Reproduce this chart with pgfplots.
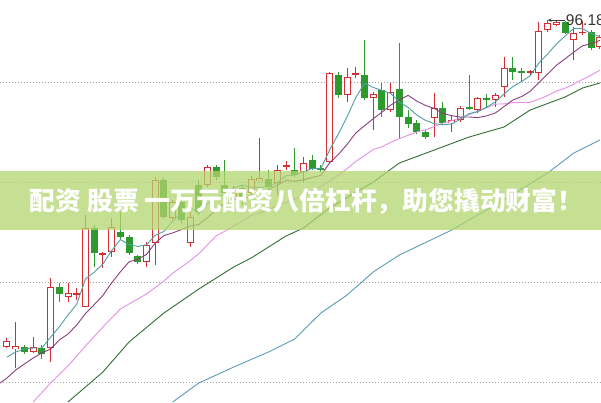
\documentclass[border=0pt]{standalone}
\usepackage{fontspec}
\setmainfont{Liberation Sans}
\newfontfamily\cjk{Noto Sans CJK SC}
\usepackage{pgfplots}
\pgfplotsset{compat=1.18}
\usepackage{pgfplotstable}
\usetikzlibrary{arrows.meta}

\definecolor{cred}{HTML}{D22E33}
\definecolor{cgreen}{HTML}{2E9A2E}
\definecolor{ma5}{HTML}{4E9FA3}
\definecolor{ma10}{HTML}{8A3D7E}
\definecolor{ma20}{HTML}{E58FE6}
\definecolor{ma60}{HTML}{2F6E33}
\definecolor{ma120}{HTML}{5A9DB5}
\definecolor{gridgray}{HTML}{A0A0A0}
\definecolor{band}{HTML}{B2D56E}

% daily candles: index, open, high, low, close
\pgfplotstableread{
k o h l c
0 63.5 64.4 63.4 64.1
1 63.3 66.0 61.4 63.6
2 63.5 63.7 62.8 63.0
3 63.0 64.5 62.9 63.5
4 63.4 63.7 62.3 62.8
5 63.4 70.4 62.0 69.5
6 69.5 69.9 68.0 68.8
7 68.5 69.9 68.0 68.9
8 68.7 69.4 68.2 68.9
9 67.5 76.7 67.5 75.4
10 75.4 75.7 71.5 72.9
11 72.7 73.0 71.4 72.9
12 73.0 76.4 72.5 75.5
13 75.0 77.0 74.2 74.5
14 74.5 74.7 72.7 72.9
15 72.6 72.7 71.8 72.0
16 72.0 74.0 71.5 73.7
17 73.9 80.5 71.7 80.2
18 80.2 80.4 76.3 76.5
19 76.4 78.2 76.2 78.0
20 78.0 78.2 75.9 76.2
21 73.9 77.0 73.5 76.5
22 79.7 80.2 76.7 77.0
23 79.7 81.7 79.5 81.5
24 81.5 81.7 80.2 80.5
25 79.7 82.2 78.5 78.9
26 78.2 79.6 77.8 79.2
27 79.4 79.7 77.7 78.4
28 78.9 80.6 78.6 80.3
29 80.1 84.4 80.0 80.4
30 80.3 81.2 79.0 79.5
31 79.9 81.7 78.7 81.2
32 81.5 82.1 81.2 81.7
33 81.2 83.4 80.5 80.7
34 81.0 82.5 80.0 81.9
35 82.2 82.7 81.2 81.3
36 81.4 81.7 81.0 81.2
37 82.0 91.0 81.9 90.9
38 90.7 91.0 88.4 88.7
39 88.7 91.4 88.0 90.5
40 90.7 91.5 90.4 90.9
41 90.7 94.2 88.2 88.4
42 88.4 89.0 85.2 88.8
43 89.2 89.9 86.5 87.2
44 87.2 89.9 87.0 89.0
45 89.3 93.9 84.4 86.5
46 86.5 87.2 85.4 85.8
47 85.9 86.2 84.8 85.0
48 85.0 85.2 84.3 84.5
49 86.4 88.9 84.5 87.4
50 87.4 88.0 85.7 85.9
51 85.9 86.7 85.0 86.2
52 86.2 87.6 86.0 87.4
53 87.5 90.7 87.2 87.3
54 87.2 88.5 86.9 88.4
55 88.4 88.8 87.4 88.2
56 88.2 88.9 87.5 88.7
57 89.5 92.5 88.5 91.4
58 91.4 92.5 90.2 91.0
59 91.1 91.4 90.0 90.9
60 90.9 91.2 90.7 91.1
61 90.9 96.0 90.2 95.1
62 95.2 96.18 95.0 95.9
63 95.7 96.1 95.6 96.0
64 96.0 96.1 94.8 94.9
65 94.2 95.5 92.2 94.9
66 94.9 96.1 94.7 95.0
67 95.0 95.2 93.2 93.4
68 93.5 94.7 93.3 94.5
}\ohlc

\pgfplotstableread{
k v
0 62.5
1 63.0
2 63.3
3 63.4
4 63.40
5 64.48
6 65.52
7 66.70
8 67.78
9 70.30
10 70.98
11 71.80
12 73.12
13 74.24
14 73.74
15 73.56
16 73.72
17 74.66
18 75.06
19 76.08
20 76.92
21 77.48
22 76.84
23 77.84
24 78.34
25 78.88
26 79.42
27 79.70
28 79.46
29 79.44
30 79.56
31 79.96
32 80.62
33 80.70
34 81.00
35 81.36
36 81.36
37 83.20
38 84.80
39 86.52
40 88.44
41 89.88
42 89.46
43 89.16
44 88.86
45 87.98
46 87.46
47 86.70
48 86.16
49 85.84
50 85.72
51 85.80
52 86.28
53 86.84
54 87.04
55 87.50
56 88.00
57 88.80
58 89.54
59 90.04
60 90.62
61 91.90
62 92.80
63 93.80
64 94.60
65 95.36
66 95.34
67 94.84
68 94.54
}\mafive

\pgfplotstableread{
k v
-0.8 59.9
0 60.4
1 61.2
2 61.8
3 62.4
4 62.9
5 63.3
6 64.2
7 64.8
8 65.7
9 66.85
10 67.73
11 68.66
12 69.91
13 71.01
14 72.02
15 72.27
16 72.76
17 73.89
18 74.65
19 74.91
20 75.24
21 75.60
22 75.75
23 76.45
24 77.21
25 77.90
26 78.45
27 78.27
28 78.65
29 78.89
30 79.22
31 79.69
32 80.16
33 80.08
34 80.22
35 80.46
36 80.66
37 81.91
38 82.75
39 83.76
40 84.90
41 85.62
42 86.33
43 86.98
44 87.69
45 88.21
46 88.67
47 88.08
48 87.66
49 87.35
50 86.85
51 86.63
52 86.49
53 86.50
54 86.44
55 86.61
56 86.90
57 87.54
58 88.19
59 88.54
60 89.06
61 89.95
62 90.80
63 91.67
64 92.32
65 92.99
66 93.62
67 93.82
68 94.17
}\maten

\pgfplotstableread{
k v
3 58.0
5 59.9
7 61.6
9 63.6
11 65.5
13 67.3
14 67.8
16 68.8
18 70.1
19 70.88
20 71.49
21 72.13
22 72.83
23 73.73
24 74.62
25 75.09
26 75.61
27 76.08
28 76.65
29 76.90
30 77.23
31 77.65
32 77.96
33 78.27
34 78.72
35 79.18
36 79.56
37 80.09
38 80.70
39 81.33
40 82.06
41 82.66
42 83.25
43 83.53
44 83.96
45 84.34
46 84.67
47 85.00
48 85.21
49 85.56
50 85.88
51 86.13
52 86.41
53 86.74
54 87.07
55 87.41
56 87.79
57 87.81
58 87.93
59 87.95
60 87.96
61 88.29
62 88.65
63 89.09
64 89.38
65 89.80
66 90.26
67 90.68
68 91.18
}\matwenty

\pgfplotstableread{
k v
7 58.0
11 61.0
14 64.0
18 66.9
22 69.3
26 71.5
28 72.4
32 74.6
34 75.4
37 77.4
42 80.0
45 81.9
49 83.2
53 84.5
57 85.5
60 87.2
64 88.5
66 89.4
68 89.9
}\masixty

\pgfplotstableread{
k v
19 58.0
22 59.9
26 61.5
30 63.0
33 64.3
36 66.9
39 68.7
42 71.0
45 72.7
51 75.2
56 77.7
62 80.9
65 82.9
68 84.2
}\mahundred

\pgfplotsset{
  candle/.style 2 args={draw=none, mark=none, forget plot,
    error bars/.cd, y dir=both, y explicit, error mark=none,
    error bar style={draw=#1, line width=#2, solid}},
}

\begin{document}
\begin{tikzpicture}
\begin{axis}[
  at={(0,0)}, anchor=south west,
  width=601pt, height=402pt, scale only axis,
  xmin=-0.8, xmax=68.12, ymin=58.0, ymax=98.2,
  axis line style={draw=none},
  xtick=\empty, ytick={60,70,80,90}, yticklabels={},
  major tick length=0pt, tick style={draw=none},
  ymajorgrids,
  grid style={gridgray, line width=0.8pt, dash pattern=on 1pt off 2pt},
]
% wicks
\addplot[restrict expr to domain={\thisrow{c}-\thisrow{o}}{0:100}, candle={cred}{1pt}]
  table[x=k, y expr={(\thisrow{h}+\thisrow{l})/2}, y error expr={(\thisrow{h}-\thisrow{l})/2}] {\ohlc};
\addplot[restrict expr to domain={\thisrow{c}-\thisrow{o}}{-100:-0.0001}, candle={cgreen}{1pt}]
  table[x=k, y expr={(\thisrow{h}+\thisrow{l})/2}, y error expr={(\thisrow{h}-\thisrow{l})/2}] {\ohlc};
% bodies: green filled, red hollow
\addplot[restrict expr to domain={\thisrow{c}-\thisrow{o}}{-100:-0.0001}, candle={cgreen}{7pt}]
  table[x=k, y expr={(\thisrow{o}+\thisrow{c})/2}, y error expr={max(abs(\thisrow{o}-\thisrow{c})/2,0.06)}] {\ohlc};
\addplot[restrict expr to domain={\thisrow{c}-\thisrow{o}}{0:100}, candle={cred}{7pt}]
  table[x=k, y expr={(\thisrow{o}+\thisrow{c})/2}, y error expr={max(abs(\thisrow{o}-\thisrow{c})/2,0.06)}] {\ohlc};
\addplot[restrict expr to domain={\thisrow{c}-\thisrow{o}}{0.25:100}, candle={white}{5pt}]
  table[x=k, y expr={(\thisrow{o}+\thisrow{c})/2}, y error expr={abs(\thisrow{o}-\thisrow{c})/2-0.1}] {\ohlc};

% moving averages
\addplot[ma120, line width=0.9pt, mark=none] table[x=k, y=v] {\mahundred};
\addplot[ma60, line width=0.9pt, mark=none] table[x=k, y=v] {\masixty};
\addplot[ma20, line width=0.9pt, mark=none] table[x=k, y=v] {\matwenty};
\addplot[ma10, line width=0.9pt, mark=none] table[x=k, y=v] {\maten};
\addplot[ma5, line width=0.9pt, mark=none] table[x=k, y=v] {\mafive};

% banner
\fill[band, fill opacity=0.75] (axis cs:-0.8,75.2) rectangle (axis cs:68.12,81.1);
\node[text=white, font=\cjk\bfseries\fontsize{25.8}{30}\selectfont, xshift=6pt]
  at (rel axis cs:0.5,0.499) {配资 股票 一万元配资八倍杠杆，助您撬动财富！};

% highest price marker
\draw[{Stealth[length=4pt,width=3.5pt]}-, black!75, line width=0.7pt]
  (axis cs:62,96.18) -- ++(17pt,0pt)
  node[anchor=west, inner sep=1pt, text=black!80, font=\fontsize{15.5}{15.5}\selectfont] {96.18};
\end{axis}
\pgfresetboundingbox
\path[use as bounding box] (0,0) rectangle (601pt,402pt);
\end{tikzpicture}
\end{document}
